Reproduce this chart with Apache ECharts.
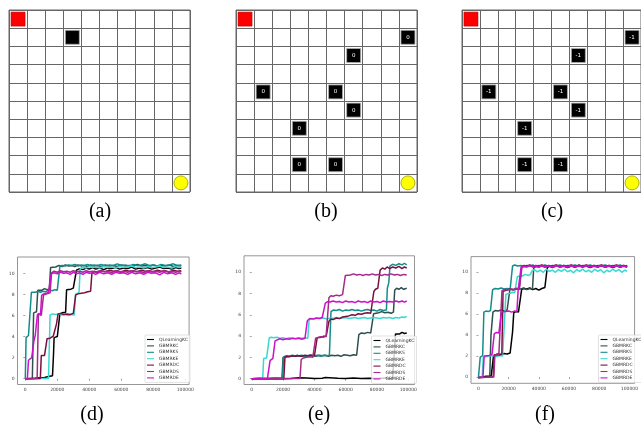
<!DOCTYPE html>
<html><head><meta charset="utf-8">
<script src="https://cdn.jsdelivr.net/npm/echarts@6/dist/echarts.min.js"></script>
<style>html,body{margin:0;padding:0;background:#fff}#c{width:641px;height:430px}</style>
</head><body><div id="c"></div><script>
// ---------- data ----------
const seriesNames = ['QLearningKC','GBMRKC','GBMRKS','GBMRKE','GBMRDC','GBMRDS','GBMRDE'];
const xTickValues = [0,20000,40000,60000,80000,100000];
const yTickValues = [0,2,4,6,8,10];
const panelLabels = ['(a)','(b)','(c)','(d)','(e)','(f)'];
const startCell = [0,0];
const goalCell = [9,9];
const obstaclesA = [[3,1]];
const obstaclesBC = [[9,1],[6,2],[1,4],[5,4],[6,5],[3,6],[3,8],[5,8]];
const obstacleTexts = ['', '0', '-1'];

// (d) [episode (thousands), reward]
const dQLearningKC = [[0,0],[3,0.02],[6,0.04],[8.5,0.08],[9,0.15],[12,0.12],[14.5,0.2],[15,0.32],[17,0.28],[17.6,2.2],[18,3.9],[19,4.05],[20,4.0],[21,4.1],[21.6,6.15],[23,6.25],[24,6.2],[25.2,6.3],[25.8,8.45],[27,8.55],[28.5,8.5],[30,8.6],[31.2,8.55],[32,10.3],[34,10.45],[36,10.35],[38,10.5],[40,10.4],[42,10.55],[44,10.4],[46.5,10.5],[49,10.35],[51.5,10.5],[54,10.45],[56.5,10.55],[59,10.4],[61.5,10.5],[64,10.45],[66.5,10.6],[69,10.4],[71.5,10.5],[74,10.45],[76.5,10.55],[79,10.4],[81.5,10.5],[84,10.6],[86.5,10.45],[89,10.5],[91.5,10.4],[94,10.55],[96,10.45],[97.5,10.5]];
const dGBMRKC = [[0,0],[4.4,0.02],[5.2,6.25],[6,6.4],[7,6.35],[7.8,8.4],[9,8.5],[10.5,8.4],[12,8.55],[13.5,8.45],[15,8.5],[15.8,10.55],[17,10.7],[19,10.6],[21,10.75],[23,10.65],[25,10.8],[27,10.7],[29,10.75],[31,10.65],[33,10.8],[35,10.7],[37,10.75],[39,10.65],[41,10.8],[43,10.7],[45,10.75],[47.5,10.65],[50,10.8],[52.5,10.7],[55,10.75],[57.5,10.65],[60,10.8],[62.5,10.7],[65,10.75],[67.5,10.7],[70,10.85],[72.5,10.7],[75,10.75],[77.5,10.65],[80,10.8],[82.5,10.7],[85,10.75],[87.5,10.7],[90,10.8],[92.5,10.65],[95,10.75],[97.5,10.7]];
const dGBMRKS = [[0,0],[0.5,3.9],[1,4.0],[2,4.1],[2.8,4.05],[3.8,8.2],[5,8.25],[6.5,8.2],[8,8.3],[9.5,8.2],[11,8.3],[12.5,8.25],[14,8.35],[15.5,8.4],[17,8.35],[18.5,8.45],[20,8.4],[20.8,8.5],[21.6,10.65],[23,10.75],[25,10.7],[27,10.8],[29,10.75],[31,10.85],[33,10.7],[35,10.8],[37,10.75],[39,10.85],[41,10.7],[43,10.8],[45,10.75],[47.5,10.85],[50,10.7],[52.5,10.8],[55,10.75],[57.5,10.9],[60,10.75],[62.5,10.8],[65,10.7],[67.5,10.85],[70,10.75],[72.5,10.8],[75,10.9],[77.5,10.75],[80,10.8],[82.5,10.7],[85,10.85],[87.5,10.75],[90,10.8],[92.5,10.9],[95,10.75],[97.5,10.8]];
const dGBMRKE = [[0,0],[5,0],[10,0.02],[14.5,0.03],[15.5,6.05],[17,6.15],[19,6.1],[21,6.15],[23,6.05],[25,6.1],[27,6.0],[29,6.1],[30.6,6.05],[31.4,8.0],[32.5,8.15],[33.6,8.2],[34.3,10.45],[36,10.6],[38,10.5],[40,10.65],[42,10.55],[44,10.6],[46.5,10.5],[49,10.65],[51.5,10.55],[54,10.6],[56.5,10.5],[59,10.65],[61.5,10.55],[64,10.6],[66.5,10.7],[69,10.55],[71.5,10.6],[74,10.5],[76.5,10.65],[79,10.55],[81.5,10.6],[84,10.7],[86.5,10.55],[89,10.6],[91.5,10.5],[94,10.65],[96,10.55],[97.5,10.6]];
const dGBMRDC = [[0,0],[5,0.02],[9.4,0.03],[10,2.2],[11,2.25],[12,2.2],[12.8,2.25],[13.6,3.8],[14.5,3.9],[15.5,3.85],[16.5,4.0],[17.5,4.05],[18.5,4.1],[19.5,5.2],[20.5,6.15],[22,6.2],[24,6.1],[26,6.15],[28,6.1],[30,6.2],[30.8,6.15],[31.5,7.95],[33,8.05],[35,8.1],[37,8.15],[39,8.25],[40.8,8.3],[41.6,9.95],[43,10.2],[45,10.1],[47.5,10.25],[50,10.15],[52.5,10.3],[55,10.2],[57.5,10.25],[60,10.1],[62.5,10.3],[65,10.2],[67.5,10.25],[70,10.15],[72.5,10.3],[75,10.2],[77.5,10.25],[80,10.15],[82.5,10.3],[85,10.2],[87.5,10.25],[90,10.1],[92.5,10.3],[95,10.2],[97.5,10.25]];
const dGBMRDS = [[0,0],[4,0],[7.4,0.02],[8.2,6.2],[9,6.35],[10,6.0],[10.6,5.85],[11.4,7.95],[12.5,8.1],[13.5,8.05],[14.5,8.2],[15.5,8.15],[16.4,10.05],[18,10.2],[20,10.1],[22,10.25],[24,10.15],[26,10.2],[28,10.1],[30,10.25],[32,10.15],[34,10.2],[36,10.1],[38,10.25],[40,10.15],[42,10.2],[44,10.1],[46.5,10.25],[49,10.15],[51.5,10.2],[54,10.05],[56.5,10.25],[59,10.15],[61.5,10.2],[64,10.1],[66.5,10.25],[69,10.15],[71.5,10.2],[74,10.05],[76.5,10.25],[79,10.15],[81.5,10.2],[84,10.1],[86.5,10.25],[89,10.15],[91.5,10.2],[94,10.1],[96,10.2],[97.5,10.15]];
const dGBMRDE = [[0,0],[1.3,0.02],[2,1.75],[3,1.9],[4,2.0],[4.6,2.05],[5.4,3.6],[6.2,4.1],[7,4.2],[7.6,6.1],[8.5,6.2],[9.5,6.1],[10.2,7.9],[11.5,8.05],[13,8.1],[14.5,8.2],[15.4,8.3],[16.2,9.95],[18,10.05],[20,9.95],[22,10.1],[24,10.0],[26,10.05],[28,9.9],[30,10.1],[32,9.95],[34,10.05],[36,9.9],[38,10.1],[40,10.0],[42,10.05],[44,9.9],[46.5,10.1],[49,9.95],[51.5,10.05],[54,9.9],[56.5,10.1],[59,10.0],[61.5,10.05],[64,9.9],[66.5,10.1],[69,9.95],[71.5,10.05],[74,9.9],[76.5,10.1],[79,10.0],[81.5,10.05],[84,9.85],[86.5,10.1],[89,9.95],[91.5,10.05],[94,9.9],[96,10.05],[97.5,9.95]];

// (e)
const eQLearningKC = [[0,0],[5,0.01],[10,0],[15,0.02],[20,0],[25,0.02],[30,0.08],[31,0.02],[35,0.05],[40,0.01],[45,0.04],[47,0.1],[48,0.02],[55,0.04],[60,0.01],[65,0.05],[70,0.02],[75,0.04],[80,0.01],[85,0.05],[90,0.02],[91.2,0.03],[91.8,4.2],[93,4.3],[94.5,4.2],[96,4.35],[97.5,4.25],[99,4.3]];
const eGBMRKC = [[0,0],[5,0.02],[10,0],[15,0.03],[19.3,0.02],[20,2.0],[21,2.1],[23,2.05],[25,2.15],[27,2.1],[29,2.2],[31,2.1],[33,2.15],[35,2.1],[37,2.2],[39,2.15],[41,2.1],[43,2.2],[45,2.15],[47,2.2],[49,2.1],[51,2.2],[53,2.15],[55,2.2],[57,2.1],[59,2.25],[61,2.2],[63,2.15],[65,2.25],[67,2.2],[67.6,2.15],[68.4,4.15],[70,4.3],[72,4.25],[74,4.35],[76,4.3],[77,4.25],[77.8,6.1],[79,6.25],[81,6.2],[83,6.3],[85,6.2],[87,6.25],[89,6.15],[90.5,6.25],[91.3,8.3],[92.5,8.5],[94,8.4],[95.5,8.55],[97,8.4],[99,8.5]];
const eGBMRKS = [[0,0],[10,0.02],[19.6,0.02],[20.3,2.05],[22,2.15],[24,2.1],[26,2.2],[28,2.1],[30,2.15],[32,2.2],[34,2.1],[36,2.15],[38,2.2],[40,2.15],[42,2.2],[44,2.1],[46,2.2],[48,2.15],[49.6,2.2],[50.6,6.3],[52,6.45],[54,6.4],[56,6.5],[58,6.35],[60,6.45],[62,6.4],[64,6.5],[66,6.4],[68,6.45],[70,6.35],[72,6.45],[74,6.5],[76,6.4],[78,6.45],[80,6.35],[82,6.5],[84,6.4],[86,6.45],[86.6,8.5],[87.5,9.0],[88.3,10.6],[90,10.75],[92,10.65],[94,10.8],[96,10.7],[97.5,10.85],[99,10.7]];
const eGBMRKE = [[0,0],[4,0.01],[7,0.02],[7.6,1.9],[8.5,2.0],[9.5,1.95],[10.4,2.0],[11.2,3.85],[12.5,3.9],[14,3.85],[16,3.9],[18,3.8],[20,3.85],[22,3.75],[24,3.85],[26,3.8],[28,3.75],[30,3.85],[32,3.8],[34,3.85],[35.8,3.8],[36.6,5.5],[38,5.65],[40,5.6],[42,5.7],[44,5.65],[46,5.7],[48,5.6],[50,5.7],[52,5.65],[54,5.75],[56,5.65],[58,5.7],[60,5.75],[62,5.65],[64,5.7],[66,5.75],[68,5.65],[70,5.7],[72,5.75],[74,5.65],[76,5.7],[78,5.75],[80,5.7],[82,5.65],[84,5.75],[86,5.7],[88,5.75],[90,5.65],[92,5.75],[94,5.7],[96,5.8],[97.5,5.75],[99,5.85]];
const eGBMRDC = [[0,0],[10,0.01],[20.5,0.02],[21.2,2.0],[22.5,2.1],[24,2.05],[26,2.15],[28,2.1],[30,2.15],[32,2.1],[34,2.2],[36,2.15],[38,2.2],[40,2.15],[41,2.2],[41.8,3.85],[43,3.95],[44.5,3.9],[46,4.0],[47.5,3.95],[48.5,4.05],[49.3,5.4],[50.5,5.6],[52,5.55],[54,5.7],[56,5.65],[58,5.8],[60,5.85],[62,5.9],[64,6.0],[66,5.95],[68,6.1],[70,6.05],[72,6.15],[74,6.2],[76,6.15],[77.2,6.3],[78,8.2],[79,8.4],[80.5,8.5],[81.3,8.45],[82,10.2],[83.5,10.4],[85,10.3],[86.5,10.5],[88,10.35],[90,10.5],[92,10.4],[94,10.55],[96,10.35],[97.5,10.5],[99,10.4]];
const eGBMRDS = [[0,0],[10,0],[20,0.02],[30.8,0.02],[31.6,1.8],[33,1.95],[35,2.0],[37,2.05],[39,2.0],[40,2.1],[40.8,3.8],[42,3.9],[44,3.95],[46,3.9],[47.5,4.0],[48.5,4.05],[49.3,7.6],[50.5,7.8],[52,7.75],[54,7.85],[56,7.8],[58,7.9],[59,7.85],[59.8,9.7],[61,9.8],[63,9.75],[65,9.85],[67,9.75],[69,9.8],[71,9.7],[73,9.8],[75,9.75],[77,9.85],[79,9.75],[81,9.8],[83,9.7],[85,9.8],[87,9.75],[89,9.85],[91,9.75],[93,9.8],[95,9.7],[97,9.8],[99,9.75]];
const eGBMRDE = [[0,0],[5,0.02],[10,0],[11,0.02],[11.7,1.7],[12.5,1.85],[13.5,1.9],[14.2,2.0],[14.9,3.55],[16,3.7],[18,3.75],[20,3.65],[22,3.75],[24,3.7],[26,3.8],[28,3.75],[30,3.8],[32,3.7],[34,3.8],[34.8,3.75],[35.5,5.45],[37,5.65],[39,5.6],[41,5.7],[43,5.65],[45,5.75],[46.2,5.7],[47,7.1],[48.5,7.25],[50,7.2],[52,7.3],[54,7.2],[56,7.25],[58,7.15],[60,7.3],[62,7.2],[64,7.25],[66,7.15],[68,7.3],[70,7.2],[72,7.25],[74,7.15],[76,7.3],[78,7.2],[80,7.25],[82,7.15],[84,7.3],[86,7.2],[88,7.25],[90,7.2],[92,7.3],[94,7.2],[96,7.3],[97.5,7.2],[99,7.3]];

// (f)
const fQLearningKC = [[0,-0.05],[3,0],[5,0.08],[7,0.1],[8.5,0.15],[9.2,0.2],[10,2.05],[11,2.15],[13,2.2],[15,2.15],[17,2.25],[19,2.2],[21,2.3],[21.8,2.2],[22.6,4.3],[23.4,6.15],[25,6.25],[26.5,6.2],[27.6,6.3],[28.6,8.35],[30,8.45],[32,8.4],[34,8.5],[36,8.35],[38,8.45],[40,8.3],[42,8.45],[44,8.55],[44.8,8.5],[45.6,10.45],[47,10.6],[49,10.5],[51.5,10.65],[54,10.5],[56.5,10.6],[59,10.45],[61.5,10.6],[64,10.5],[66.5,10.65],[69,10.5],[71.5,10.6],[74,10.45],[76.5,10.6],[79,10.5],[81.5,10.65],[84,10.5],[86.5,10.6],[89,10.45],[91.5,10.6],[94,10.5],[96,10.6],[98.5,10.5]];
const fGBMRKC = [[0,-0.05],[4,-0.02],[7.5,0.02],[8.3,4.0],[9,4.1],[9.6,6.2],[11,6.35],[13,6.3],[15,6.4],[17,6.3],[19,6.4],[20,6.35],[20.8,8.35],[22,8.4],[24,8.35],[26,8.45],[28,8.4],[30,8.5],[32,8.35],[34,8.45],[35.8,8.4],[36.6,10.4],[38,10.55],[40,10.5],[42,10.6],[44,10.5],[46.5,10.6],[49,10.45],[51.5,10.6],[54,10.55],[56.5,10.65],[59,10.5],[61.5,10.6],[64,10.5],[66.5,10.7],[69,10.55],[71.5,10.6],[74,10.5],[76.5,10.65],[79,10.55],[81.5,10.6],[84,10.5],[86.5,10.65],[89,10.55],[91.5,10.6],[94,10.5],[96,10.65],[98.5,10.55]];
const fGBMRKS = [[0,-0.05],[0.5,-0.03],[1.2,1.9],[2,2.0],[2.8,2.05],[3.6,6.2],[5,6.3],[6.5,6.25],[8,6.35],[8.6,6.3],[9.4,8.35],[11,8.45],[13,8.4],[15,8.5],[17,8.4],[19,8.45],[21,8.4],[21.8,8.5],[22.6,10.6],[24,10.7],[26,10.6],[28,10.65],[30,10.55],[32,10.65],[34,10.6],[36,10.7],[38,10.55],[40,10.65],[42,10.6],[44,10.7],[46.5,10.55],[49,10.65],[51.5,10.6],[54,10.7],[56.5,10.55],[59,10.65],[61.5,10.6],[64,10.7],[66.5,10.55],[69,10.65],[71.5,10.6],[74,10.7],[76.5,10.55],[79,10.65],[81.5,10.6],[84,10.7],[86.5,10.55],[89,10.65],[91.5,10.6],[94,10.7],[96,10.55],[98.5,10.65]];
const fGBMRKE = [[0,-0.05],[2.5,-0.03],[3.2,1.9],[4.5,2.0],[6,1.95],[8,2.05],[10,2.0],[12,1.95],[14,2.05],[16,2.0],[17.3,2.05],[18.2,7.9],[19.5,8.05],[21,8.0],[22.5,8.1],[24,8.05],[25,8.1],[25.8,9.6],[27,9.7],[29,9.65],[31,9.8],[33,9.7],[34.5,9.8],[35.3,10.1],[37,10.25],[39,10.05],[41,10.2],[43,10.0],[45,10.3],[47,10.1],[49,10.2],[51,10.0],[53,10.25],[55,10.1],[57,10.3],[59,10.05],[61,10.2],[63,9.95],[65,10.25],[67,10.1],[69,10.3],[71,10.05],[73,10.2],[75,10.0],[77,10.3],[79,10.1],[81,10.25],[83,9.95],[85,10.2],[87,10.05],[89,10.3],[91,10.1],[93,10.25],[95,10.0],[97,10.2],[98.5,10.1]];
const fGBMRDC = [[0,-0.05],[5,-0.02],[9.8,0.02],[10.5,2.05],[12,2.15],[14,2.1],[15.5,2.2],[16.3,8.2],[17.5,8.35],[19,8.3],[21,8.4],[23,8.35],[25,8.45],[27,8.4],[27.8,8.5],[28.6,10.55],[30,10.65],[32,10.6],[34,10.7],[36,10.55],[38,10.65],[40,10.6],[42,10.7],[44,10.55],[46.5,10.65],[49,10.6],[51.5,10.7],[54,10.55],[56.5,10.65],[59,10.6],[61.5,10.7],[64,10.55],[66.5,10.65],[69,10.6],[71.5,10.7],[74,10.55],[76.5,10.65],[79,10.6],[81.5,10.7],[84,10.55],[86.5,10.65],[89,10.6],[91.5,10.7],[94,10.55],[96,10.65],[98.5,10.6]];
const fGBMRDS = [[0,-0.05],[6,-0.03],[10.2,0.0],[10.9,2.1],[12,2.15],[13.5,2.1],[14.8,2.2],[15.6,8.25],[17,8.35],[19,8.3],[21,8.4],[23,8.3],[25,8.45],[27,8.35],[28,8.45],[28.8,10.5],[30,10.6],[32,10.55],[34,10.65],[36,10.5],[38,10.6],[40,10.55],[42,10.65],[44,10.5],[46.5,10.6],[49,10.55],[51.5,10.65],[54,10.5],[56.5,10.6],[59,10.55],[61.5,10.65],[64,10.5],[66.5,10.6],[69,10.55],[71.5,10.65],[74,10.5],[76.5,10.6],[79,10.55],[81.5,10.65],[84,10.5],[86.5,10.6],[89,10.55],[91.5,10.65],[94,10.5],[96,10.6],[98.5,10.55]];
const fGBMRDE = [[0,-0.05],[3,-0.03],[3.8,2.0],[5,2.1],[7,2.05],[9,2.15],[9.8,2.1],[10.5,4.15],[12,4.25],[13.5,4.2],[14.5,4.3],[15.3,6.2],[16.5,6.3],[18,6.25],[20,6.3],[22,6.2],[24,6.3],[25.5,6.25],[26.3,8.3],[27.3,8.4],[28.3,10.5],[30,10.6],[32,10.5],[34,10.65],[36,10.55],[38,10.6],[40,10.5],[42,10.65],[44,10.55],[46.5,10.6],[49,10.5],[51.5,10.65],[54,10.55],[56.5,10.6],[59,10.5],[61.5,10.65],[64,10.55],[66.5,10.6],[69,10.5],[71.5,10.65],[74,10.55],[76.5,10.6],[79,10.5],[81.5,10.65],[84,10.55],[86.5,10.6],[89,10.5],[91.5,10.65],[94,10.55],[96,10.6],[98.5,10.5]];

// ---------- styles / layout ----------
const lineColors = ['#000000','#2f4f4f','#138c8a','#3ad8d0','#7b1040','#a52a8a','#cc11cc'];
const worldBoxes = [[9,10,181,182],[236,10,181,182],[462,10,180.5,182]];
const plotBoxes = [[17.5,257,171.6,127.5],[244,255.8,170.5,128.7],[471,256.6,169.4,126.7]];
const xRanges = [[-4875,102375],[-4950,103950],[-4925,103425]];
const yRanges = [[-0.55,11.55],[-0.55,11.55],[-0.6,11.5]];
const legendPos = [[145,335],[371.5,336],[598.5,335]];
const labelPos = [[100,212],[326,212],[552,212],[92,415],[319,415],[545,415]];

const panelData = [
  [dQLearningKC,dGBMRKC,dGBMRKS,dGBMRKE,dGBMRDC,dGBMRDS,dGBMRDE],
  [eQLearningKC,eGBMRKC,eGBMRKS,eGBMRKE,eGBMRDC,eGBMRDS,eGBMRDE],
  [fQLearningKC,fGBMRKC,fGBMRKS,fGBMRKE,fGBMRDC,fGBMRDS,fGBMRDE]
];

const grids=[], xAxes=[], yAxes=[], series=[];
const gridLineColor = '#666666';
worldBoxes.forEach((b,i)=>{
  grids.push({left:b[0],top:b[1],width:b[2],height:b[3],show:true,borderColor:gridLineColor,borderWidth:1,backgroundColor:'#fff'});
  const ax = {type:'value',gridIndex:i,min:0,max:10,interval:1,axisLine:{show:false},axisTick:{show:false},axisLabel:{show:false},
    splitLine:{show:true,lineStyle:{color:gridLineColor,width:1}}};
  xAxes.push(Object.assign({},ax));
  yAxes.push(Object.assign({},ax,{inverse:true}));
  const obs = i===0 ? obstaclesA : obstaclesBC;
  series.push({type:'scatter',xAxisIndex:i,yAxisIndex:i,symbol:'rect',symbolSize:14,silent:true,animation:false,
    data:[[startCell[0]+0.5,startCell[1]+0.5]],itemStyle:{color:'#ff0000',opacity:1,borderColor:'#b00000',borderWidth:0.6}});
  series.push({type:'scatter',xAxisIndex:i,yAxisIndex:i,symbol:'circle',symbolSize:14,silent:true,animation:false,
    data:[[goalCell[0]+0.5,goalCell[1]+0.5]],itemStyle:{color:'#ffff00',opacity:1,borderColor:'#999900',borderWidth:0.8}});
  series.push({type:'scatter',xAxisIndex:i,yAxisIndex:i,symbol:'rect',symbolSize:14,silent:true,animation:false,
    data:obs.map(o=>[o[0]+0.5,o[1]+0.5,obstacleTexts[i]]),
    itemStyle:{color:'#000',opacity:1,borderColor:'#b0b0b0',borderWidth:0.8},
    label:{show:obstacleTexts[i]!=='',position:'inside',formatter:p=>p.value[2],color:'#fff',fontSize:5.5,fontFamily:'DejaVu Sans'}});
});

plotBoxes.forEach((b,k)=>{
  const gi = 3+k;
  grids.push({left:b[0],top:b[1],width:b[2],height:b[3],show:true,borderColor:'#8a8a8a',borderWidth:0.9,backgroundColor:'#fff'});
  xAxes.push({type:'value',gridIndex:gi,min:xRanges[k][0],max:xRanges[k][1],
    axisLine:{show:false},splitLine:{show:false},
    axisTick:{show:true,length:2,customValues:xTickValues,lineStyle:{color:'#666',width:0.6}},
    axisLabel:{show:true,customValues:xTickValues,formatter:v=>String(v),fontSize:4.5,color:'#444',margin:3,fontFamily:'DejaVu Sans'}});
  yAxes.push({type:'value',gridIndex:gi,min:yRanges[k][0],max:yRanges[k][1],
    axisLine:{show:false},splitLine:{show:false},
    axisTick:{show:true,length:2,customValues:yTickValues,lineStyle:{color:'#666',width:0.6}},
    axisLabel:{show:true,customValues:yTickValues,formatter:v=>String(v),fontSize:4.5,color:'#444',margin:3,fontFamily:'DejaVu Sans'}});
  panelData[k].forEach((arr,s)=>{
    series.push({type:'line',name:seriesNames[s],xAxisIndex:gi,yAxisIndex:gi,showSymbol:false,symbol:'none',
      animation:false,silent:true,clip:true,z:2+s*0.01,
      data:arr.map(p=>[p[0]*1000,p[1]]),
      itemStyle:{color:lineColors[s]},
      lineStyle:{color:lineColors[s],width:1.5}});
  });
});

const legends = legendPos.map(p=>({data:seriesNames,orient:'vertical',left:p[0],top:p[1],icon:'rect',
  itemWidth:7,itemHeight:1.1,itemGap:1.4,padding:[2,2,2,2],borderColor:'#cccccc',borderWidth:0.6,borderRadius:1,
  backgroundColor:'rgba(255,255,255,0.8)',selectedMode:false,z:10,
  textStyle:{fontSize:4.5,color:'#333',fontFamily:'DejaVu Sans',padding:0}}));

const graphics = panelLabels.map((t,i)=>({type:'text',x:labelPos[i][0],y:labelPos[i][1],z:20,
  style:{text:t,fontSize:20,fontFamily:'Liberation Serif',fill:'#000',align:'center',verticalAlign:'middle',textAlign:'center',textVerticalAlign:'middle'}}));

const chart = echarts.init(document.getElementById('c'),null,{renderer:'canvas',width:641,height:430});
chart.setOption({animation:false,backgroundColor:'#fff',grid:grids,xAxis:xAxes,yAxis:yAxes,series:series,legend:legends,graphic:graphics});
</script></body></html>
